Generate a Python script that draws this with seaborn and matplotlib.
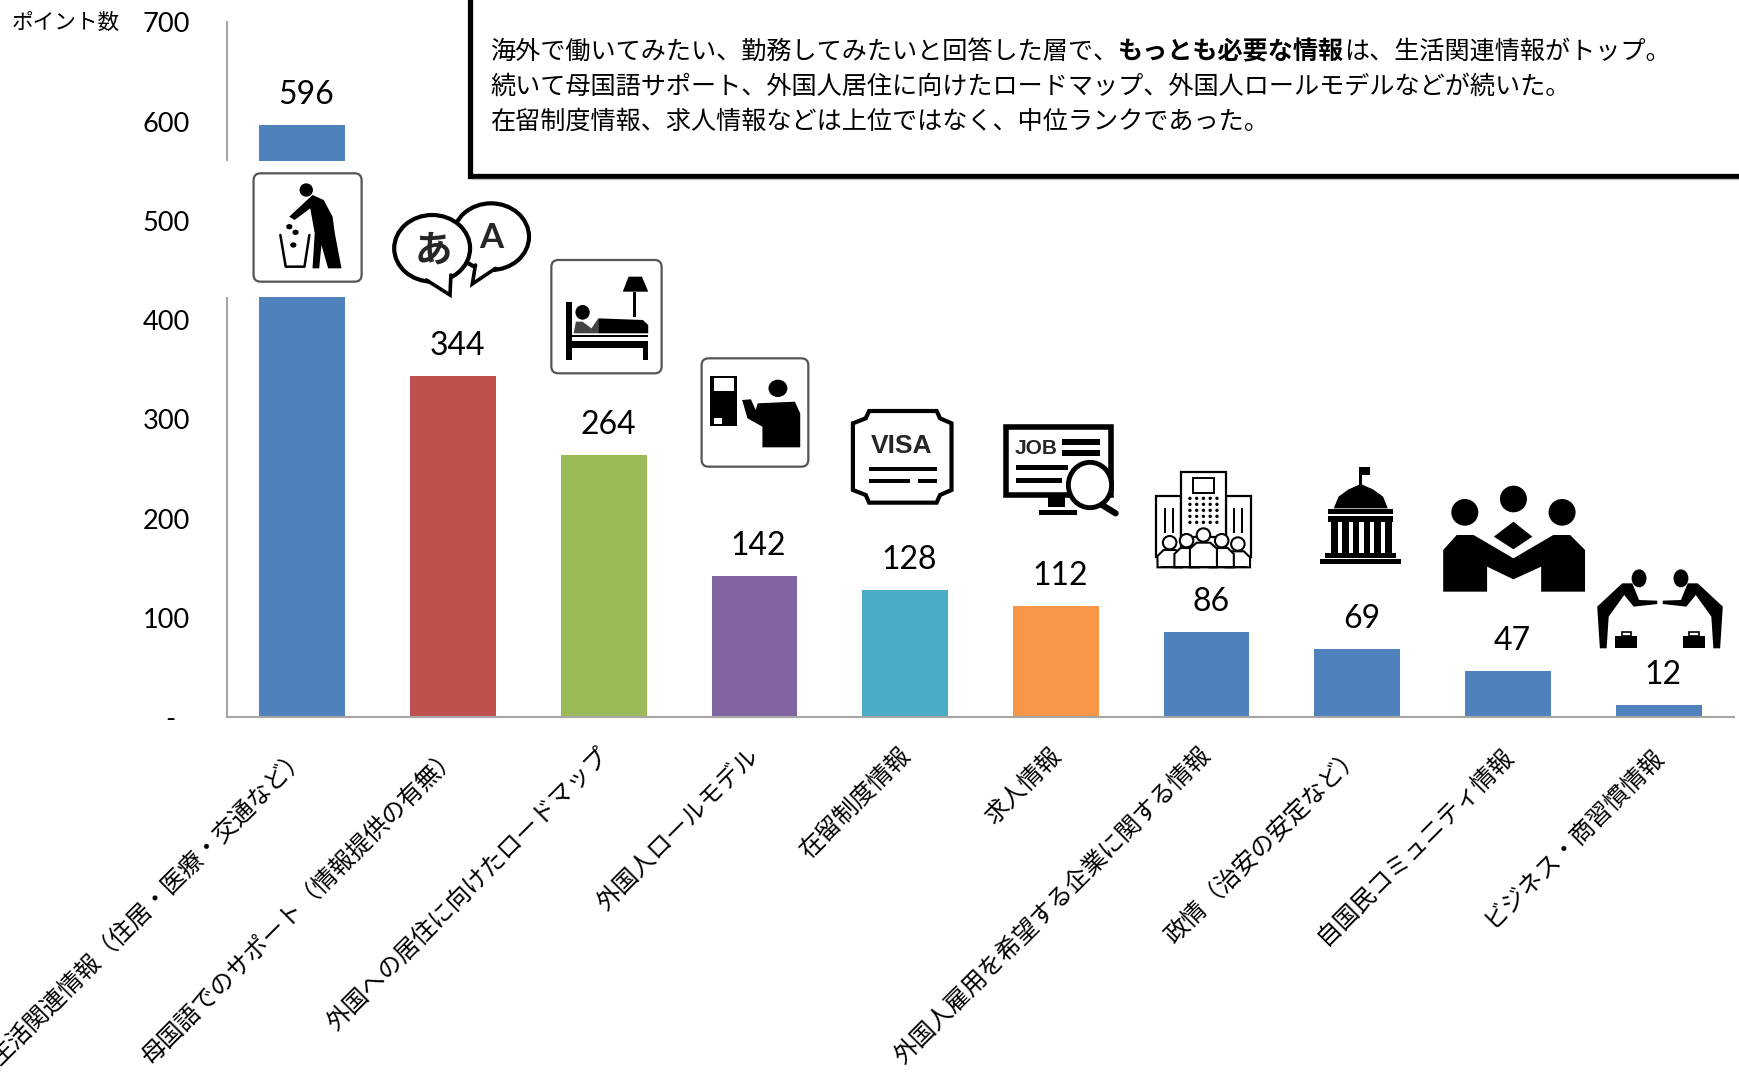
import matplotlib
matplotlib.use("Agg")
import matplotlib.pyplot as plt
import seaborn as sns
from matplotlib.patches import Polygon, Rectangle, Ellipse, FancyBboxPatch
from matplotlib.transforms import ScaledTranslation

categories = ["生活関連情報（住居・医療・交通など）", "母国語でのサポート（情報提供の有無）",
              "外国への居住に向けたロードマップ", "外国人ロールモデル", "在留制度情報", "求人情報",
              "外国人雇用を希望する企業に関する情報", "政情（治安の安定など）",
              "自国民コミュニティ情報", "ビジネス・商習慣情報"]
values = [596, 344, 264, 142, 128, 112, 86, 69, 47, 12]
bar_colors = ["#4F81BD", "#C0504D", "#9BBB59", "#8064A2", "#4BACC6", "#F79646",
              "#4F81BD", "#4F81BD", "#4F81BD", "#4F81BD"]
y_ticks = [0, 100, 200, 300, 400, 500, 600, 700]
y_tick_labels = ["-", "100", "200", "300", "400", "500", "600", "700"]
y_unit = "ポイント数"
note_lines = [
    [("海外で働いてみたい、勤務してみたいと回答した層で、", False), ("もっとも必要な情報", True), ("は、生活関連情報がトップ。", False)],
    [("続いて母国語サポート、外国人居住に向けたロードマップ、外国人ロールモデルなどが続いた。", False)],
    [("在留制度情報、求人情報などは上位ではなく、中位ランクであった。", False)],
]

sns.set_theme(style="white")
plt.rcParams["font.family"] = ["Noto Sans CJK JP", "DejaVu Sans"]
W, H = 1739, 1075
fig = plt.figure(figsize=(W / 100, H / 100), dpi=100, facecolor="white")
ax = fig.add_axes([227 / W, (H - 717.3) / H, (1734 - 227) / W, (717.3 - 22.2) / H])
sns.barplot(x=categories, y=values, hue=categories, palette=bar_colors, legend=False,
            width=0.57, saturation=1, ax=ax, linewidth=0)
ax.set_xlim(-0.5, 9.5)
ax.set_ylim(0, 700)
ax.set_yticks(y_ticks)
ax.set_yticklabels(y_tick_labels, family="Lato", fontsize=19.5, color="black")
ax.tick_params(axis="y", length=0, pad=26.5)
ax.tick_params(axis="x", length=0, pad=18.5)
ax.set_xticks(range(len(categories)))
ax.set_xticklabels(categories, rotation=45, ha="right", va="top", rotation_mode="anchor",
                   fontsize=17.5, color="black")
for lab in ax.get_xticklabels():
    lab.set_transform(lab.get_transform() + ScaledTranslation(-8 / 100, 0, fig.dpi_scale_trans))
zero = ax.get_yticklabels()[0]
zero.set_transform(zero.get_transform() + ScaledTranslation(-15 / 100, 0, fig.dpi_scale_trans))
ax.set_xlabel("")
ax.set_ylabel("")
sns.despine(ax=ax, top=True, right=True)
for s in ("left", "bottom"):
    ax.spines[s].set_color("#A6A6A6")
    ax.spines[s].set_linewidth(1.5)
for i, v in enumerate(values):
    ax.annotate(str(v), (i, v), xytext=(3, 21.6), textcoords="offset points", ha="center",
                va="center", family="Lato", fontsize=23, color="black", annotation_clip=False)

# overlay in pixel coordinates: note box and pictograms
ov = fig.add_axes([0, 0, 1, 1], zorder=5)
ov.set_xlim(0, W)
ov.set_ylim(H, 0)
ov.axis("off")
ov.patch.set_alpha(0)
ov.text(12, 23, y_unit, fontsize=15.6, va="center", ha="left", color="black")

# note box
ov.plot([470, 470, W], [0, 175.5, 175.5], color="black", lw=3.8, solid_joinstyle="miter")
ov.plot([473, W], [179, 179], color="#BBBBBB", lw=1)
rend = fig.canvas.get_renderer()
for line, yc in zip(note_lines, [52, 87, 122]):
    x = 490
    for txt, bold in line:
        t = ov.text(x, yc, txt, fontsize=18.1, va="center", ha="left", color="black",
                    fontweight="bold" if bold else "normal")
        x = ov.transData.inverted().transform(t.get_window_extent(rend).get_points())[1, 0]


def mapper(ox, oy, sx, sy):
    return lambda pts: [(ox + x / sx, oy + y / sy) for x, y in pts]


def poly(m, pts, fc="black", ec="none", lw=0):
    ov.add_patch(Polygon(m(pts), closed=True, fc=fc, ec=ec, lw=lw))


def rect(m, x0, y0, x1, y1, fc="black", ec="none", lw=0):
    poly(m, [(x0, y0), (x1, y0), (x1, y1), (x0, y1)], fc, ec, lw)


def ell(m, cx, cy, rx, ry, fc="black", ec="none", lw=0):
    (x, y), = m([(cx, cy)])
    (x2, y2), = m([(cx + rx, cy + ry)])
    ov.add_patch(Ellipse((x, y), 2 * (x2 - x), 2 * (y2 - y), fc=fc, ec=ec, lw=lw))


def box(m, x0, y0, x1, y1):
    (a, b), (c, d) = m([(x0, y0), (x1, y1)])
    ov.add_patch(FancyBboxPatch((a + 6, b + 6), c - a - 12, d - b - 12,
                                boxstyle="round,pad=6,rounding_size=7", fc="white", ec="#555555", lw=1.6))


def tail(m, a, tip, b, lw=2.6):
    poly(m, [a, tip, b], fc="white")
    ov.plot(*zip(*m([a, tip, b])), color="black", lw=lw, solid_joinstyle="miter")


m1 = mapper(0, 0, 2.24, 3)
m3 = mapper(680, 350, 1.4806, 3)

# white gap over the first bar and the axis line
ov.add_patch(Rectangle((222, 161), 150, 136, fc="white", ec="none"))

# icon 1: litter
box(m1, 568, 520, 810, 845)
ell(m1, 686, 570, 15, 20)
poly(m1, [(700, 585), (725, 600), (745, 650), (750, 700), (765, 805), (735, 805), (720, 735), (715, 805),
          (700, 805), (705, 700), (695, 625), (660, 660), (648, 650)])
for c in [(648, 680), (662, 697), (657, 735)]:
    ell(m1, c[0], c[1], 7, 8)
ov.plot(*zip(*m1([(628, 705), (640, 800), (682, 800), (693, 705)])), color="black", lw=1.8)

# icon 2: speech bubbles
ell(m1, 1100, 710, 85, 100, fc="white", ec="black", lw=3)
tail(m1, (1065, 795), (1058, 852), (1110, 805))
ell(m1, 968, 745, 85, 100, fc="white", ec="black", lw=3)
tail(m1, (955, 840), (1008, 885), (1010, 825))
ov.text(433, 250, "あ", fontsize=27, ha="center", va="center", fontweight="bold")
ov.text(491, 238, "A", fontsize=25, ha="center", va="center", fontweight="bold", family="Lato")

# icon 3: bed
box(m1, 1235, 780, 1482, 1120)
poly(m1, [(1395, 875), (1452, 875), (1438, 830), (1408, 830)])
rect(m1, 1419, 875, 1425, 950)
rect(m1, 1268, 905, 1282, 1080)
ell(m1, 1305, 937, 16, 22)
poly(m1, [(1340, 955), (1440, 960), (1452, 975), (1452, 1000), (1340, 1000)])
poly(m1, [(1285, 1000), (1290, 965), (1305, 965), (1325, 985), (1340, 955), (1340, 1000)], fc="#444444")
rect(m1, 1282, 1005, 1452, 1012)
rect(m1, 1282, 1022, 1452, 1045)
rect(m1, 1440, 1045, 1452, 1080)

# icon 4: model at a machine
box(m3, 32, 25, 190, 350)
rect(m3, 45, 78, 85, 228)
rect(m3, 50, 85, 80, 122, fc="white")
rect(m3, 50, 205, 62, 222, fc="white")
ell(m3, 145, 115, 14, 26)
poly(m3, [(115, 160), (170, 155), (178, 190), (178, 292), (122, 292), (122, 230), (100, 205), (92, 150),
          (105, 148), (112, 180)])

# icon 5: visa
poly(m3, [(280, 183), (380, 183), (385, 205), (402, 220), (402, 420), (385, 435), (380, 458), (280, 458),
          (275, 435), (256, 420), (256, 220), (275, 205)], fc="white", ec="black", lw=3)
ov.text(680 + 328 / 1.4806, 350 + 287 / 3, "VISA", fontsize=19, fontweight="bold", family="Liberation Sans",
        ha="center", va="center")
rect(m3, 280, 351, 380, 363)
rect(m3, 280, 386, 340, 398)
rect(m3, 352, 386, 380, 398)

# icon 6: job search
rect(m3, 482, 230, 638, 435, fc="white", ec="black", lw=4)
rect(m3, 545, 435, 570, 470)
rect(m3, 532, 480, 588, 495)
ov.text(680 + 528 / 1.4806, 350 + 294 / 3, "JOB", fontsize=15, fontweight="bold", family="Liberation Sans",
        ha="center", va="center")
rect(m3, 565, 268, 622, 285)
rect(m3, 565, 300, 622, 318)
rect(m3, 497, 345, 575, 360)
rect(m3, 497, 385, 565, 400)
ell(m3, 607, 405, 32, 68, fc="white", ec="black", lw=3.5)
ov.plot(*zip(*m3([(625, 465), (645, 490)])), color="black", lw=4.5, solid_capstyle="round")

# icon 7: company building
rect(m3, 705, 438, 742, 620, fc="white", ec="black", lw=1.6)
rect(m3, 808, 438, 845, 620, fc="white", ec="black", lw=1.6)
rect(m3, 742, 365, 808, 560, fc="white", ec="black", lw=1.6)
rect(m3, 760, 385, 790, 430, fc="white", ec="black", lw=1.4)
for gx in range(755, 800, 10):
    for gy in range(445, 535, 18):
        ell(m3, gx, gy, 2.5, 5)
for gx in [718, 730, 820, 832]:
    rect(m3, gx - 1.5, 475, gx + 1.5, 550)
for cx, cy, bw, top in [(725, 578, 18, 600), (826, 582, 18, 604), (750, 572, 18, 594), (802, 572, 18, 594),
                        (775, 555, 20, 578)]:
    ell(m3, cx, cy, 10, 20, fc="white", ec="black", lw=1.5)
    poly(m3, [(cx - bw, 652), (cx - bw, top + 18), (cx - bw / 2, top), (cx + bw / 2, top), (cx + bw, top + 18),
              (cx + bw, 652)], fc="white", ec="black", lw=1.5)
rect(m3, 712, 648, 840, 655)

# icon 8: government building
rect(m3, 1006, 352, 1010, 405)
rect(m3, 1008, 352, 1022, 375)
poly(m3, [(968, 475), (975, 440), (990, 418), (1008, 402), (1026, 418), (1041, 440), (1048, 475)])
rect(m3, 960, 476, 1056, 492)
rect(m3, 960, 498, 1056, 515)
for cx in range(964, 1056, 16):
    rect(m3, cx, 515, cx + 10, 608)
rect(m3, 955, 608, 1060, 625)
rect(m3, 948, 628, 1068, 643)

# icon 9: community
for cx, cy in [(1162, 487), (1234, 447), (1306, 487)]:
    ell(m3, cx, cy, 20, 40)
poly(m3, [(1205, 560), (1234, 515), (1262, 560), (1234, 598)])
poly(m3, [(1130, 725), (1130, 600), (1150, 555), (1175, 555), (1234, 625), (1293, 555), (1318, 555),
          (1340, 600), (1340, 725), (1275, 725), (1275, 650), (1234, 688), (1195, 650), (1195, 725)])

# icon 10: business greeting
left_fig = [(1358, 770), (1395, 700), (1410, 700), (1420, 750), (1447, 752), (1447, 762), (1412, 770),
            (1398, 735), (1375, 800), (1372, 895), (1362, 895)]
poly(m3, left_fig)
poly(m3, [(2902 - x, y) for x, y in left_fig])
ell(m3, 1420, 685, 11, 27)
ell(m3, 1482, 685, 11, 27)
for x0 in (1385, 1485):
    rect(m3, x0, 857, x0 + 32, 895)
    rect(m3, x0 + 9, 845, x0 + 23, 857, fc="white", ec="black", lw=1.2)

fig.savefig("out.png", dpi=100, facecolor="white")
